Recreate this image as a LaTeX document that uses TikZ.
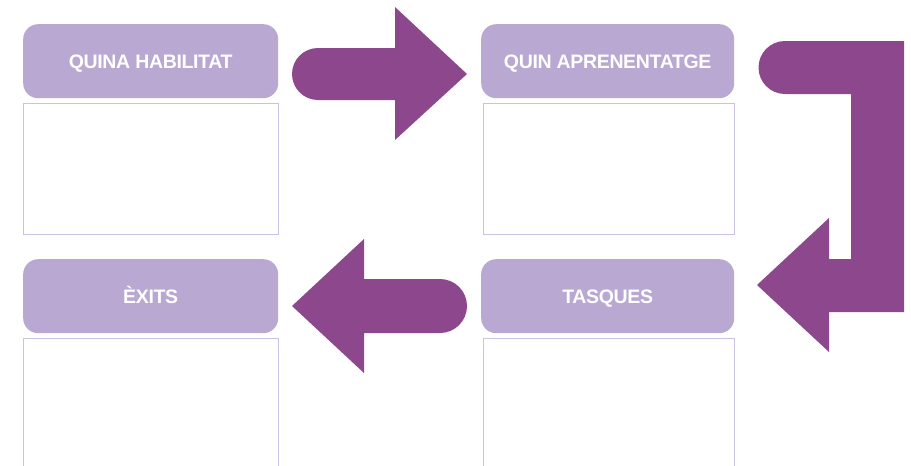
\documentclass[tikz,border=0pt]{standalone}
\usepackage{fontspec}
\setmainfont{Liberation Sans}
\newfontfamily\hdrfont{Liberation Sans}[LetterSpace=-1.8]
\definecolor{hdr}{HTML}{B8A8D2}
\definecolor{arr}{HTML}{8C478D}
\definecolor{brd}{HTML}{CBC1E1}
\begin{document}
\begin{tikzpicture}[x=1pt,y=-1pt,
  header/.style={fill=hdr, rounded corners=15pt, minimum height=74pt, inner sep=0pt,
    text height=14pt, text depth=0pt,
    text=white, font=\hdrfont\bfseries\fontsize{19.5}{21}\selectfont, anchor=north west},
  blank/.style={draw=brd, line width=0.9pt, inner sep=0pt, anchor=north west},
  blockarrow/.style={fill=arr}]
\useasboundingbox (0,0) rectangle (911,466);
% headers
\node[header, minimum width=255pt] (h1) at (23,24) {QUINA HABILITAT};
\node[header, minimum width=253pt] (h2) at (481,24) {QUIN APRENENTATGE};
\node[header, minimum width=255pt] (h3) at (23,259) {ÈXITS};
\node[header, minimum width=253pt] (h4) at (481,259) {TASQUES};
% blank boxes
\node[blank, minimum width=255pt, minimum height=131pt] (b1) at (23,103) {};
\node[blank, minimum width=251pt, minimum height=131pt] (b2) at (483,103) {};
\node[blank, minimum width=255pt, minimum height=140pt] (b3) at (23,338) {};
\node[blank, minimum width=251pt, minimum height=140pt] (b4) at (483,338) {};
% arrows
\fill[blockarrow] (395,48) -- (318,48) arc[start angle=270, end angle=90, radius=26]
  -- (395,100) -- (395,140) -- (467,74) -- (395,7) -- cycle;
\fill[blockarrow] (904,41) -- (785,41) arc[start angle=270, end angle=90, radius=26.5]
  -- (851,94) -- (851,259) -- (829,259) -- (829,218) -- (757,285) -- (829,352)
  -- (829,312) -- (904,312) -- cycle;
\fill[blockarrow] (364,279) -- (440,279) arc[start angle=270, end angle=450, radius=27]
  -- (364,333) -- (364,373) -- (292,306) -- (364,239) -- cycle;
\end{tikzpicture}
\end{document}
